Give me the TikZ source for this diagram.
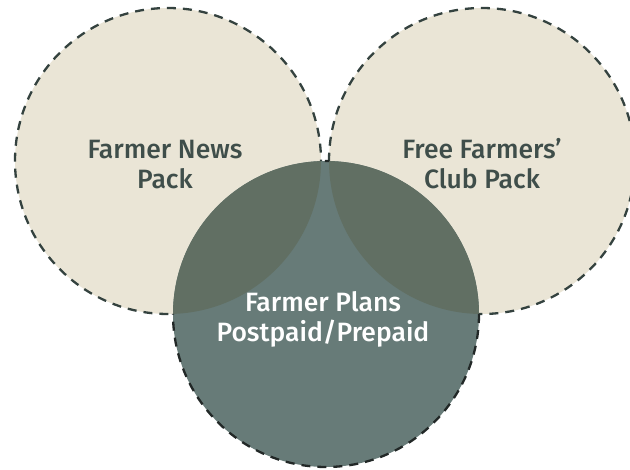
\documentclass[tikz,border=0pt]{standalone}
\usepackage{fontspec}
\setmainfont{Fira Sans}[UprightFont=* Medium]
\definecolor{beige}{HTML}{EAE5D6}
\definecolor{slate}{HTML}{677B78}
\definecolor{overlap}{HTML}{616F63}
\definecolor{ink}{HTML}{3F4E4A}
\definecolor{dashc}{HTML}{34423F}
\definecolor{dashb}{HTML}{222827}
\tikzset{
  outline/.style={draw=dashc, line width=2.3pt, dash pattern=on 9pt off 7pt},
  lab/.style={align=center, font=\fontsize{26.5}{30.5}\selectfont, inner sep=0pt, anchor=base}
}
\begin{document}
\begin{tikzpicture}[x=1pt,y=-1pt]
\useasboundingbox (0,0) rectangle (630,470);
\coordinate (L) at (168,161);
\coordinate (R) at (482,161);
\coordinate (B) at (326,314);
\def\rad{153}
% fills
\fill[beige] (L) circle (\rad);
\fill[beige] (R) circle (\rad);
\fill[slate] (B) circle (\rad);
\begin{scope}
  \clip (B) circle (\rad);
  \fill[overlap] (L) circle (\rad);
  \fill[overlap] (R) circle (\rad);
\end{scope}
% dashed outlines, only outside the other circles
\begin{scope}[even odd rule]
  \clip (-10,-10) rectangle (640,480) (B) circle (\rad);
  \draw[outline] (L) circle (\rad);
  \draw[outline] (R) circle (\rad);
\end{scope}
\begin{scope}[even odd rule]
  \clip (-10,-10) rectangle (640,480) (L) circle (\rad);
  \clip (-10,-10) rectangle (640,480) (R) circle (\rad);
  \draw[outline, draw=dashb] (B) circle (\rad);
\end{scope}
% labels
\node[lab, text=ink] (news) at (165,189) {Farmer News\\Pack};
\node[lab, text=ink] (club) at (482,189) {Free Farmers’\\Club Pack};
\node[lab, text=white] (plans) at (323,342) {Farmer Plans\\Postpaid/Prepaid};
\end{tikzpicture}
\end{document}
